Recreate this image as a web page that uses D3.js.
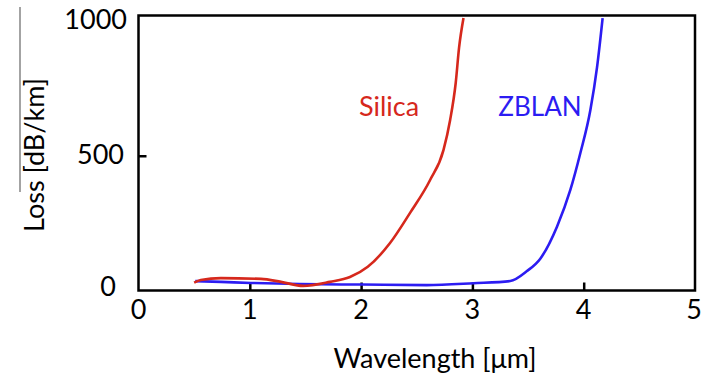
<!DOCTYPE html>
<html><head><meta charset="utf-8">
<script src="https://cdn.jsdelivr.net/npm/d3@7"></script>
<style>
html,body{margin:0;padding:0;background:#fff;}
text{font-family:Lato,"Open Sans",sans-serif;}
</style></head>
<body>
<svg id="c" width="706" height="380"></svg>
<script>
// Data
const silicaWl   = [0.50,0.56,0.74,1.10,1.28,1.48,1.72,1.90,2.06,2.26,2.44,2.62,2.74,2.80,2.85,2.88,2.92];
const silicaLoss = [29,  39,  46,  43,  32,  17,  32,  50,  88,  176, 288, 410, 521, 633, 770, 900, 1011];
const zblanWl    = [0.51,0.74,1.01,1.45,2.01,2.59,3.01,3.34,3.49,3.61,3.76,3.88,3.97,4.06,4.12,4.17];
const zblanLoss  = [35,  32,  28,  24,  22,  20,  27,  35,  72,  118, 237, 373, 510, 670, 829, 1011];
const xTicks = [0,1,2,3,4,5];
const yTicks = [0,500,1000];
const seriesNames = ["Silica","ZBLAN"];
const colors = ["#d6281c","#2c1cf2"];

const svg = d3.select("#c");
const L = 138.5, R = 695, T = 15.5, B = 290.5;
const x = d3.scaleLinear().domain([0,5]).range([L,R]);
const y = d3.scaleLinear().domain([0,1000]).range([B,21]);

// inner ticks
const gx = svg.append("g").attr("transform",`translate(0,${B})`)
  .call(d3.axisTop(x).tickValues(xTicks.slice(1,-1)).tickSize(8).tickFormat(""));
gx.select(".domain").remove();
gx.selectAll("line").attr("stroke","#000").attr("stroke-width",2.5);
const gy = svg.append("g").attr("transform",`translate(${L},0)`)
  .call(d3.axisRight(y).tickValues([500]).tickSize(8).tickFormat(""));
gy.select(".domain").remove();
gy.selectAll("line").attr("stroke","#000").attr("stroke-width",2.5);

// tick labels
svg.append("g").selectAll("text").data(xTicks).join("text")
  .attr("x",d=>x(d)+ (d===5?-1:0)).attr("y",319)
  .attr("text-anchor","middle").attr("font-size",27).attr("fill","#000").text(d=>d);
svg.append("g").selectAll("text").data(yTicks).join("text")
  .attr("x",d=> d===0?116:(d===500?124:127)).attr("y",d=>y(d)+ (d===0?5:8))
  .attr("text-anchor","end").attr("font-size",27).attr("fill","#000").text(d=>d);

// curves
const line = d3.line().x(d=>x(d[0])).y(d=>y(d[1])).curve(d3.curveMonotoneX);
const zb = zblanWl.map((w,i)=>[w,zblanLoss[i]]);
const si = silicaWl.map((w,i)=>[w,silicaLoss[i]]);
svg.append("path").datum(zb).attr("d",line).attr("fill","none")
  .attr("stroke",colors[1]).attr("stroke-width",2.6);
svg.append("path").datum(si).attr("d",line).attr("fill","none")
  .attr("stroke",colors[0]).attr("stroke-width",2.6);

// frame
svg.append("rect").attr("x",L).attr("y",T).attr("width",R-L).attr("height",B-T)
  .attr("fill","none").attr("stroke","#000").attr("stroke-width",2.5);

// series labels
svg.append("text").attr("x",389).attr("y",116).attr("text-anchor","middle")
  .attr("font-size",27).attr("fill",colors[0]).text(seriesNames[0]);
svg.append("text").attr("x",540).attr("y",116).attr("text-anchor","middle")
  .attr("font-size",26).attr("fill",colors[1]).text(seriesNames[1]);

// axis titles
svg.append("text").attr("x",435).attr("y",368).attr("text-anchor","middle")
  .attr("font-size",27).attr("fill","#000").text("Wavelength [μm]");
svg.append("text").attr("transform","translate(44,155) rotate(-90)")
  .attr("text-anchor","middle").attr("font-size",27).attr("fill","#000").text("Loss [dB/km]");
svg.append("line").attr("x1",20).attr("x2",20).attr("y1",7).attr("y2",192)
  .attr("stroke","#666").attr("stroke-width",1.2);
</script>
</body></html>
